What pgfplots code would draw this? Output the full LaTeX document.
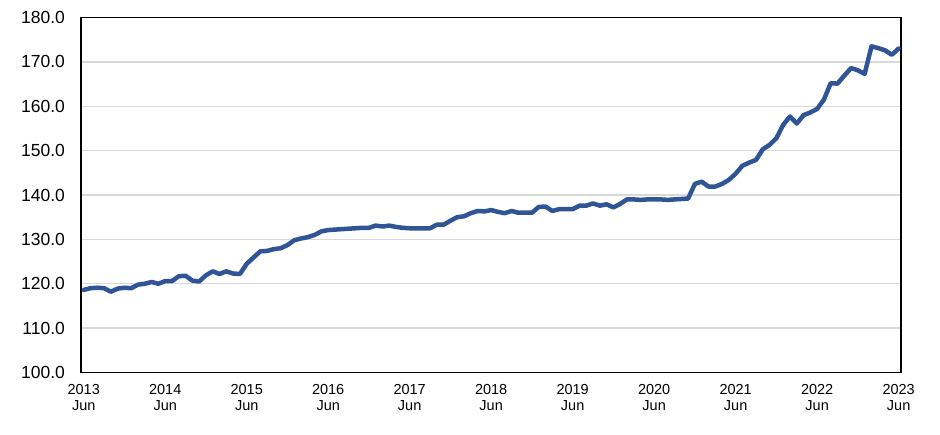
\documentclass[border=0pt]{standalone}
\usepackage{fontspec}
\setmainfont{Liberation Sans}
\usepackage{pgfplots}
\pgfplotsset{compat=1.18}
\definecolor{lineblue}{HTML}{2F5597}
\definecolor{gridgray}{HTML}{D9D9D9}
\begin{document}
\begin{tikzpicture}
\begin{axis}[
  scale only axis, width=820bp, height=355bp,
  xmin=-0.4, xmax=120.35, ymin=100, ymax=180,
  xtick={0,12,...,120},
  xticklabels={2013\\Jun,2014\\Jun,2015\\Jun,2016\\Jun,2017\\Jun,2018\\Jun,2019\\Jun,2020\\Jun,2021\\Jun,2022\\Jun,2023\\Jun},
  xticklabel style={align=center, font=\fontsize{14.5bp}{16bp}\selectfont},
  xticklabel shift=8.5bp,
  ytick={100,110,...,180},
  yticklabel style={font=\fontsize{17.5bp}{19bp}\selectfont,
    /pgf/number format/fixed, /pgf/number format/fixed zerofill,
    /pgf/number format/precision=1, /pgf/number format/assume math mode=true},
  yticklabel shift=12.5bp,
  ymajorgrids, major grid style={gridgray, line width=1.3bp},
  axis line style={black, line width=1.5bp},
  tick style={draw=none},
]
\addplot[lineblue, line width=4.5bp, line join=round, line cap=round] coordinates {
(0,118.6)(1,119.0)(2,119.1)(3,119.0)(4,118.2)(5,118.9)(6,119.1)(7,119.0)(8,119.8)(9,120.0)
(10,120.4)(11,120.0)(12,120.6)(13,120.6)(14,121.7)(15,121.8)(16,120.7)(17,120.5)(18,121.9)(19,122.8)
(20,122.2)(21,122.8)(22,122.3)(23,122.2)(24,124.5)(25,125.9)(26,127.3)(27,127.4)(28,127.8)(29,128.0)
(30,128.7)(31,129.8)(32,130.2)(33,130.5)(34,131.0)(35,131.8)(36,132.1)(37,132.2)(38,132.3)(39,132.4)
(40,132.5)(41,132.6)(42,132.6)(43,133.1)(44,132.9)(45,133.1)(46,132.8)(47,132.6)(48,132.5)(49,132.5)
(50,132.5)(51,132.5)(52,133.3)(53,133.3)(54,134.2)(55,135.0)(56,135.2)(57,135.9)(58,136.4)(59,136.3)
(60,136.6)(61,136.2)(62,135.9)(63,136.4)(64,136.0)(65,136.0)(66,136.0)(67,137.3)(68,137.4)(69,136.4)
(70,136.8)(71,136.8)(72,136.8)(73,137.6)(74,137.6)(75,138.1)(76,137.6)(77,137.9)(78,137.2)(79,138.0)
(80,139.0)(81,139.0)(82,138.9)(83,139.0)(84,139.0)(85,139.0)(86,138.9)(87,139.0)(88,139.1)(89,139.2)
(90,142.5)(91,143.0)(92,141.9)(93,141.9)(94,142.5)(95,143.4)(96,144.8)(97,146.6)(98,147.3)(99,147.9)
(100,150.3)(101,151.3)(102,152.8)(103,155.8)(104,157.7)(105,156.1)(106,158.0)(107,158.6)(108,159.4)(109,161.5)
(110,165.2)(111,165.1)(112,166.9)(113,168.6)(114,168.1)(115,167.3)(116,173.5)(117,173.1)(118,172.6)(119,171.6)
(120,173.0)
};
\end{axis}
\pgfresetboundingbox
\path ([xshift=-81bp,yshift=-61.7bp]current axis.south west) rectangle ([xshift=39bp,yshift=17.5bp]current axis.north east);
\end{tikzpicture}
\end{document}
